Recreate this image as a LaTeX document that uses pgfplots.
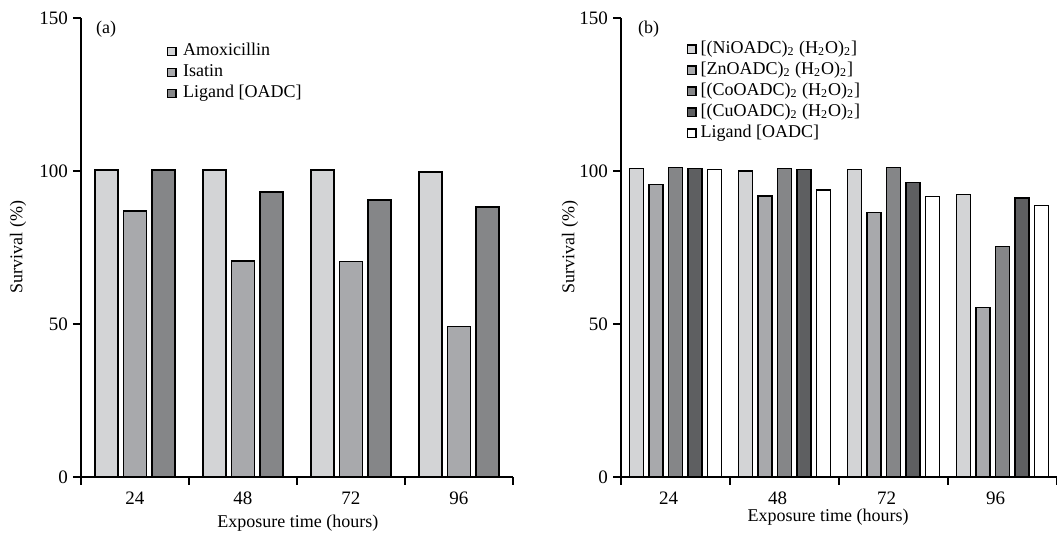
\documentclass[border=0pt]{standalone}
\usepackage{fontspec}
\setmainfont{Liberation Serif}
\usepackage{pgfplots}
\pgfplotsset{compat=1.18}
\definecolor{g1}{HTML}{D3D4D6}
\definecolor{g2}{HTML}{A8A9AC}
\definecolor{g3}{HTML}{858688}
\definecolor{g4}{HTML}{5E5F61}
\pgfplotsset{
  base/.style={
    scale only axis, height=229.5pt,
    ymin=0, ymax=150, xmin=-0.5, xmax=3.5,
    axis x line*=bottom, axis y line*=left,
    axis line style={-, line width=0.9pt, black},
    /pgf/number format/assume math mode=true,
    ytick={0,50,100,150}, minor ytick={0,50,100,150},
    xtick={0,1,2,3}, xticklabels={24,48,72,96},
    minor xtick={-0.5,0.5,1.5,2.5,3.5},
    tick align=outside, major tick length=0pt, minor tick length=4pt,
    every tick/.style={line width=0.9pt, black},
    tick label style={font=\fontsize{9.5}{11}\selectfont},
    yticklabel style={xshift=-3pt},
    xticklabel style={yshift=-4pt},
    label style={font=\fontsize{9}{10.5}\selectfont},
    ylabel={Survival (\%)},
    legend style={draw=none, fill=none, inner sep=0pt, outer sep=0pt,
      font=\fontsize{9}{10}\selectfont, anchor=north west,
      nodes={text height=6.5pt, text depth=2pt, inner sep=1pt, anchor=west}},
    legend cell align=left,
    clip=false,
  },
  mb/.style={ybar, draw=black, line width=0.65pt,
    legend image code/.code={\draw[##1, line width=0.65pt] (0pt,-2.1pt) rectangle (4.2pt,2.1pt);}},
}
\begin{document}
\begin{tikzpicture}
\useasboundingbox (0,0) rectangle (528.5pt,266.5pt);
\begin{axis}[base, at={(40.5pt,28pt)}, anchor=south west, width=216pt,
  ylabel style={at={(axis description cs:-0.1458,0.501)}, anchor=center},
  xlabel={Exposure time (hours)},
  xlabel style={at={(axis description cs:0.502,-0.101)}, anchor=center},
  legend style={at={(rel axis cs:0.199,0.95)}, column sep=2.2pt},
  bar width=0.213]
\addplot[mb, fill=g1, bar shift=-0.264] coordinates {(0,100.3) (1,100.3) (2,100.3) (3,99.7)};
\addplot[mb, fill=g2, bar shift=0] coordinates {(0,86.9) (1,70.6) (2,70.4) (3,49.1)};
\addplot[mb, fill=g3, bar shift=0.264] coordinates {(0,100.3) (1,93.1) (2,90.5) (3,88.2)};
\legend{Amoxicillin, Isatin, Ligand {[}OADC{]}}
\node[anchor=west, font=\fontsize{9}{10}\selectfont] at (rel axis cs:0.0185,0.976) {(a)};
\end{axis}
\begin{axis}[base, at={(310.5pt,28pt)}, anchor=south west, width=218pt,
  ylabel style={at={(axis description cs:-0.117,0.501)}, anchor=center},
  xlabel={Exposure time (hours)},
  xlabel style={at={(axis description cs:0.475,-0.087)}, anchor=center},
  xticklabel style={xshift=-3.5pt},
  legend style={at={(rel axis cs:0.151,0.955)}, column sep=1pt},
  bar width=0.128]
\addplot[mb, fill=g1, bar shift=-0.358] coordinates {(0,100.9) (1,100.0) (2,100.4) (3,92.4)};
\addplot[mb, fill=g2, bar shift=-0.179] coordinates {(0,95.6) (1,91.8) (2,86.4) (3,55.3)};
\addplot[mb, fill=g3, bar shift=0] coordinates {(0,101.2) (1,100.9) (2,101.2) (3,75.3)};
\addplot[mb, fill=g4, bar shift=0.179] coordinates {(0,100.7) (1,100.5) (2,96.3) (3,91.2)};
\addplot[mb, fill=white, bar shift=0.358] coordinates {(0,100.4) (1,93.8) (2,91.6) (3,88.7)};
\legend{{\relax\lbrack(NiOADC)\textsubscript{2} (H\textsubscript{2}O)\textsubscript{2}\rbrack},
  {\relax\lbrack ZnOADC)\textsubscript{2} (H\textsubscript{2}O)\textsubscript{2}\rbrack},
  {\relax\lbrack(CoOADC)\textsubscript{2} (H\textsubscript{2}O)\textsubscript{2}\rbrack},
  {\relax\lbrack(CuOADC)\textsubscript{2} (H\textsubscript{2}O)\textsubscript{2}\rbrack},
  {Ligand \lbrack OADC\rbrack}}
\node[anchor=west, font=\fontsize{9}{10}\selectfont] at (rel axis cs:0.023,0.976) {(b)};
\end{axis}
\end{tikzpicture}
\end{document}
